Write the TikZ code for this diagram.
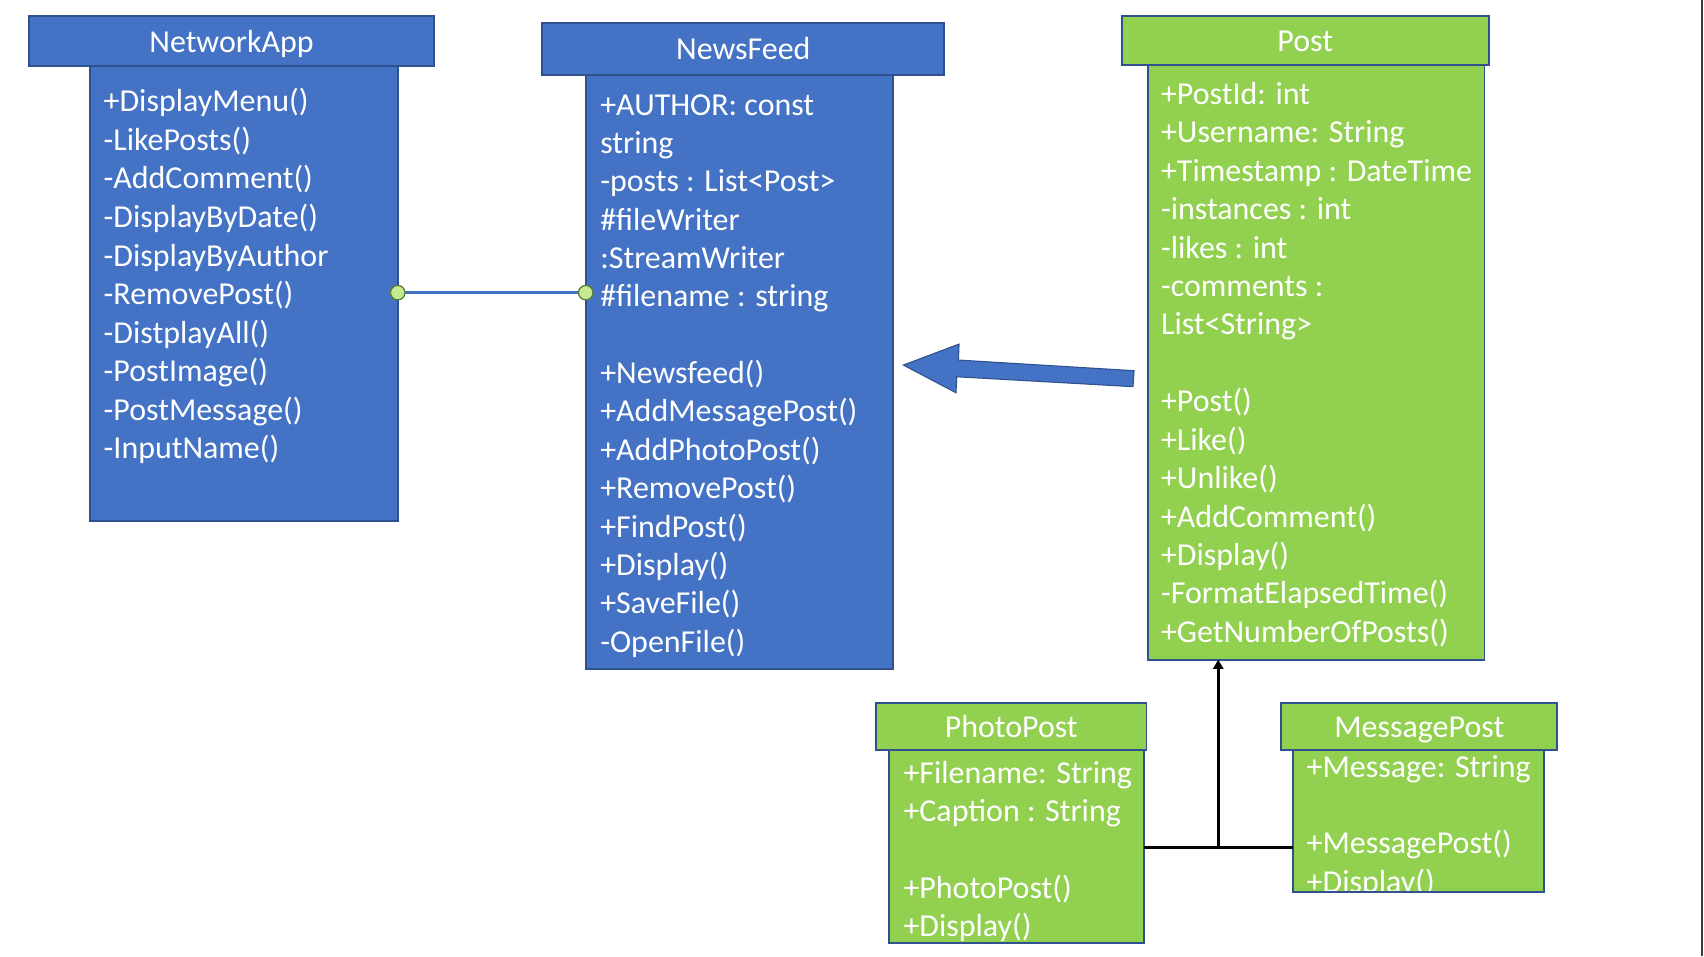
\documentclass[tikz,border=0pt]{standalone}
\usepackage{fontspec}
\setmainfont{Carlito}
\usetikzlibrary{fit,arrows.meta}
\definecolor{cblue}{HTML}{4472C4}
\definecolor{cedge}{HTML}{2F528F}
\definecolor{cgreen}{HTML}{92D050}
\definecolor{cdot}{HTML}{C6EA94}
\definecolor{cdotedge}{HTML}{5A7A30}
\definecolor{cframe}{HTML}{3A3A3A}
\tikzset{
  boxblue/.style={inner sep=0pt, outer sep=0pt, draw=cedge, fill=cblue, line width=0.9pt},
  boxgreen/.style={inner sep=0pt, outer sep=0pt, draw=cedge, fill=cgreen, line width=0.9pt},
  txt/.style={font=\fontsize{14.7}{17}\selectfont, text=white, anchor=base west, inner sep=0pt},
  ttl/.style={font=\fontsize{14.7}{17}\selectfont, text=white, anchor=base, inner sep=0pt},
  dotnode/.style={circle, minimum size=6.6pt, inner sep=0pt, fill=cdot, draw=cdotedge, line width=0.5pt},
  assoc/.style={draw=cblue, line width=1.25pt},
  inherit/.style={draw=black, line width=1.4pt},
  blockarrow/.style={fill=cblue, draw=cedge, line width=0.5pt, line join=miter},
}
\begin{document}
\begin{tikzpicture}[x=0.5pt,y=-0.5pt]
\useasboundingbox[fill=white] (0,0) rectangle (1568,880);

% ---------- NetworkApp ----------
\node[boxblue, fit={(83,61)(366,479)}] (naB) {};
\node[boxblue, fit={(27,15)(399,61)}] (naH) {};
\node[ttl] (naT) at (213,48) {NetworkApp};
\foreach \t [count=\i] in {+DisplayMenu(),-LikePosts(),-AddComment(),-DisplayByDate(),-DisplayByAuthor,-RemovePost(),-DistplayAll(),-PostImage(),-PostMessage(),-InputName()}
  \node[txt] (na\i) at (95,{102.8+35.5*(\i-1)}) {\t};

% ---------- NewsFeed ----------
\node[boxblue, fit={(539,69)(822,616)}] (nfB) {};
\node[boxblue, fit={(499,21)(869,69)}] (nfH) {};
\node[ttl] (nfT) at (684,55) {NewsFeed};
\foreach \t [count=\i] in {+AUTHOR: const,string,-posts : List<Post>,\#fileWriter,:StreamWriter,\#filename : string,{},+Newsfeed(),+AddMessagePost(),+AddPhotoPost(),+RemovePost(),+FindPost(),+Display(),+SaveFile(),-OpenFile()}
  \node[txt] (nf\i) at (552,{105.9+35.3*(\i-1)}) {\t};

% ---------- Post ----------
\node[boxgreen, fit={(1056,60)(1366,607)}] (poB) {};
\node[boxgreen, fit={(1032,15)(1370,60)}] (poH) {};
\node[ttl] (poT) at (1201,47.5) {Post};
\foreach \t [count=\i] in {+PostId: int,+Username: String,+Timestamp : DateTime,-instances : int,-likes : int,-comments :,List<String>,{},+Post(),+Like(),+Unlike(),+AddComment(),+Display(),-FormatElapsedTime(),+GetNumberOfPosts()}
  \node[txt] (po\i) at (1068,{96+35.36*(\i-1)}) {\t};

% ---------- PhotoPost ----------
\node[boxgreen, fit={(818,690)(1053,868)}] (ppB) {};
\node[boxgreen, fit={(806,647)(1055,690)}] (ppH) {};
\node[ttl] (ppT) at (930.5,678.5) {PhotoPost};
\foreach \t [count=\i] in {+Filename: String,+Caption : String,{},+PhotoPost(),+Display()}
  \node[txt] (pp\i) at (831,{721+35.25*(\i-1)}) {\t};

% ---------- MessagePost ----------
\path[fill=cgreen] (1190,690) rectangle (1421,821);
\begin{scope}
  \clip (1190,690) rectangle (1421,821);
  \foreach \t [count=\i] in {+Message: String,{},+MessagePost(),+Display()}
    \node[txt] (mp\i) at (1202,{715+35.3*(\i-1)}) {\t};
\end{scope}
\node[boxgreen, fill=none, fit={(1190,690)(1421,821)}] (mpB) {};
\node[boxgreen, fit={(1179,647)(1433,690)}] (mpH) {};
\node[ttl] (mpT) at (1306,678.5) {MessagePost};

% ---------- association NetworkApp -- NewsFeed ----------
\node[dotnode] (d1) at (naB.east |- 0,269.3) {};
\node[dotnode] (d2) at (nfB.west |- 0,269.3) {};
\draw[assoc] (d1) -- (d2);
\node[dotnode] at (d1) {};
\node[dotnode] at (d2) {};

% ---------- block arrow Post -> NewsFeed ----------
\draw[blockarrow] (831.3,335.9) -- (882.5,316.6) -- (881.9,331.3) -- (1043.5,341.1)
  -- (1042.6,355.8) -- (880.4,346.7) -- (879.7,361.4) -- cycle;

% ---------- inheritance ----------
\coordinate (j) at (1121,779.5);
\draw[inherit] (ppB.east |- j) -- (mpB.west |- j);
\draw[inherit, -{Triangle[length=4.2pt,width=4.6pt]}] (j) -- (j |- poB.south);

% ---------- right frame line ----------
\draw[cframe, line width=1.1pt] (1566,0) -- (1566,880);
\end{tikzpicture}
\end{document}
